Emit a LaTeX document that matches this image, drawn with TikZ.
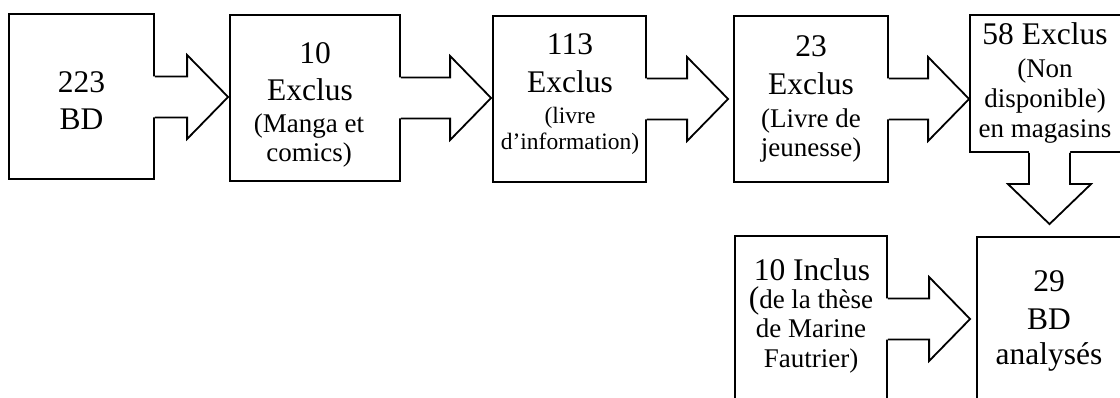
\documentclass[tikz,border=0pt]{standalone}
\usepackage{fontspec}
\setmainfont{Liberation Serif}
\usetikzlibrary{calc}
\tikzset{
  box/.style={draw, line width=1.8pt, inner sep=0pt, fill=white},
  main/.style={font=\fontsize{31.5}{36}\selectfont, anchor=base, inner sep=0pt},
  sub/.style={font=\fontsize{27}{30}\selectfont, anchor=base, inner sep=0pt},
  subsmall/.style={font=\fontsize{23.5}{27}\selectfont, anchor=base, inner sep=0pt},
  arrowline/.style={line width=1.8pt, line join=miter},
}
% horizontal block arrow: from node, to node, gap before target, centre y
\newcommand{\harrow}[4]{%
  \fill[white] let \p1=(#1.east), \p2=(#2.west), \p3=(0,#4) in
    (\x1-3pt,\y3+20.5pt) -- (\x2-#3pt-41pt,\y3+20.5pt) -- (\x2-#3pt-41pt,\y3+42pt)
    -- (\x2-#3pt,\y3) -- (\x2-#3pt-41pt,\y3-42pt) -- (\x2-#3pt-41pt,\y3-20.5pt)
    -- (\x1-3pt,\y3-20.5pt) -- cycle;
  \draw[arrowline] let \p1=(#1.east), \p2=(#2.west), \p3=(0,#4) in
    (\x1,\y3+20.5pt) -- (\x2-#3pt-41pt,\y3+20.5pt) -- (\x2-#3pt-41pt,\y3+42pt)
    -- (\x2-#3pt,\y3) -- (\x2-#3pt-41pt,\y3-42pt) -- (\x2-#3pt-41pt,\y3-20.5pt)
    -- (\x1,\y3-20.5pt);
}
% vertical block arrow: from node (south) to node (north), gap
\newcommand{\varrow}[3]{%
  \fill[white] let \p1=(#1.south), \p2=(#2.north) in
    (\x2-20.5pt,\y1+3pt) -- (\x2-20.5pt,\y2+#3pt+40pt) -- (\x2-41.5pt,\y2+#3pt+40pt)
    -- (\x2,\y2+#3pt) -- (\x2+41.5pt,\y2+#3pt+40pt) -- (\x2+20.5pt,\y2+#3pt+40pt)
    -- (\x2+20.5pt,\y1+3pt) -- cycle;
  \draw[arrowline] let \p1=(#1.south), \p2=(#2.north) in
    (\x2-20.5pt,\y1) -- (\x2-20.5pt,\y2+#3pt+40pt) -- (\x2-41.5pt,\y2+#3pt+40pt)
    -- (\x2,\y2+#3pt) -- (\x2+41.5pt,\y2+#3pt+40pt) -- (\x2+20.5pt,\y2+#3pt+40pt)
    -- (\x2+20.5pt,\y1);
}
\begin{document}
\begin{tikzpicture}[x=1pt, y=-1pt]
\useasboundingbox (0,0) rectangle (1120,398);
\clip (0,0) rectangle (1120,398);
\fill[white] (0,0) rectangle (1120,398);

% boxes
\node[box, minimum width=145pt, minimum height=165pt] (b1) at (81.5,96.5) {};
\node[box, minimum width=170pt, minimum height=166pt] (b2) at (315,98) {};
\node[box, minimum width=153pt, minimum height=166pt] (b3) at (569.5,99) {};
\node[box, minimum width=154pt, minimum height=166pt] (b4) at (811,99) {};
\node[box, minimum width=159pt, minimum height=137pt] (b5) at (1049.5,83.5) {};
\node[box, minimum width=152pt, minimum height=184pt] (b6) at (811,328) {};
\node[box, minimum width=145pt, minimum height=183pt] (b7) at (1049.5,328.5) {};

% arrows
\harrow{b1}{b2}{1}{97}
\harrow{b2}{b3}{1}{98}
\harrow{b3}{b4}{5}{99}
\harrow{b4}{b5}{0}{99}
\varrow{b5}{b7}{12}
\harrow{b6}{b7}{6}{319}

% texts
\node[main] (t1a) at (81.5,93) {223};
\node[main] (t1b) at (81.5,130) {BD};

\node[main] (t2a) at (315,64) {10};
\node[main] (t2b) at (310,101) {Exclus};
\node[sub] (t2c) at (309,133) {(Manga et};
\node[sub] (t2d) at (309,162) {comics)};

\node[main] (t3a) at (570,55) {113};
\node[main] (t3b) at (570,93) {Exclus};
\node[subsmall] (t3c) at (570,124) {(livre};
\node[subsmall] (t3d) at (570,150) {d’information)};

\node[main] (t4a) at (811,57) {23};
\node[main] (t4b) at (811,94.5) {Exclus};
\node[sub] (t4c) at (811,128) {(Livre de};
\node[sub] (t4d) at (811,157) {jeunesse)};

\node[main] (t5a) at (1045,45) {58 Exclus};
\node[sub] (t5b) at (1045,78) {(Non};
\node[sub] (t5c) at (1045,108) {disponible)};
\node[sub] (t5d) at (1045,137.5) {en magasins};

\node[main] (t6a) at (812,280) {10 Inclus};
\node[sub] (t6b) at (811,308.5) {{\fontsize{31.5}{36}\selectfont(}de la thèse};
\node[sub] (t6c) at (811,337.5) {de Marine};
\node[sub] (t6d) at (811,367) {Fautrier)};

\node[main] (t7a) at (1049,292) {29};
\node[main] (t7b) at (1049,329.5) {BD};
\node[main] (t7c) at (1049,364.5) {analysés};
\end{tikzpicture}
\end{document}
